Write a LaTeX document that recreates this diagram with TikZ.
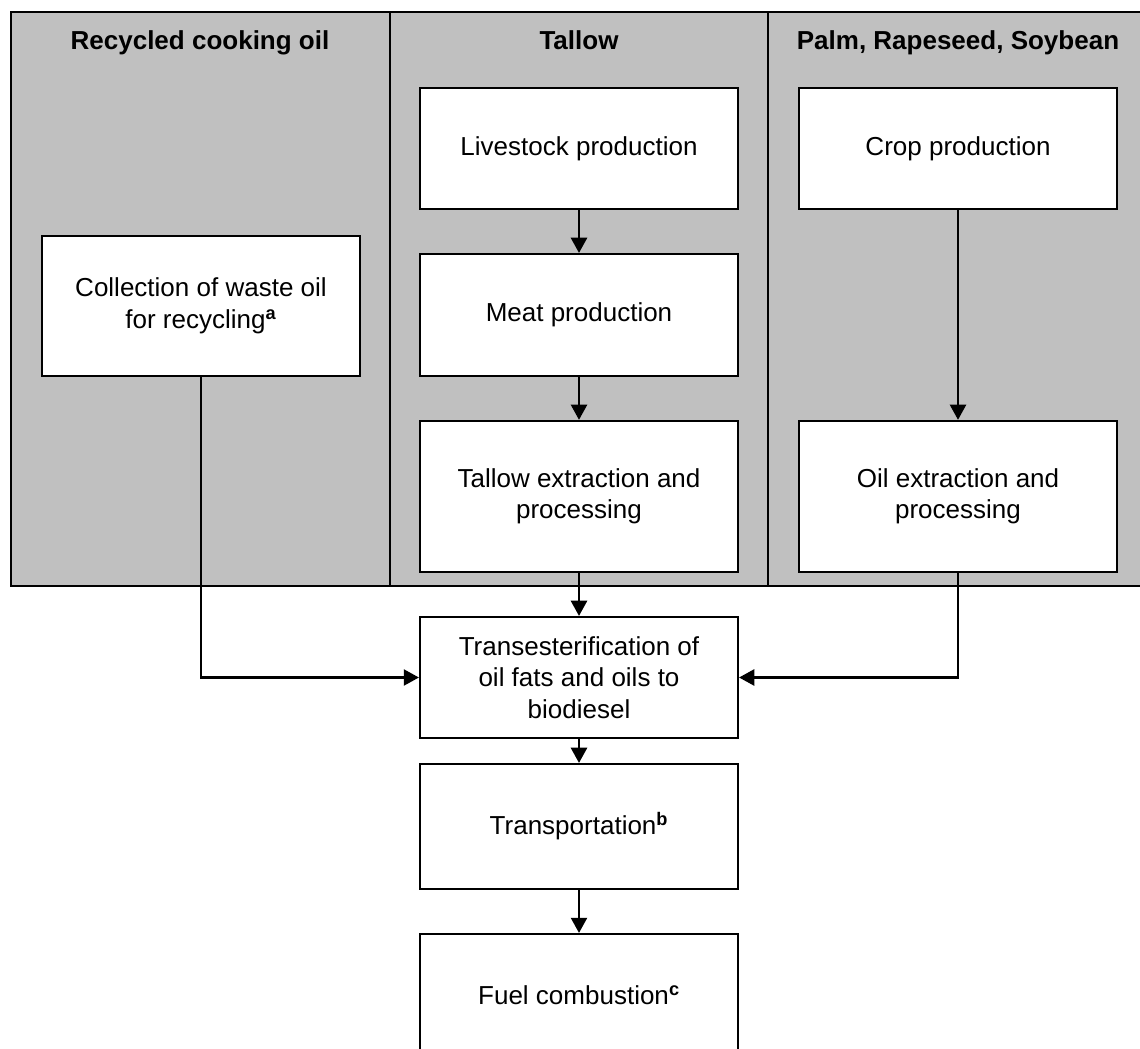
\documentclass[tikz,border=0pt]{standalone}
\usepackage{fontspec}
\setmainfont{Liberation Sans}
\usetikzlibrary{arrows.meta}
\definecolor{panelgrey}{HTML}{C0C0C0}
\newcommand{\boxwidth}{7.95cm}
\newcommand{\colsize}{\fontsize{18.5}{22.4}\selectfont}

\tikzset{
  stage/.style={draw=black, fill=white, line width=1.5pt, align=center,
    minimum width=\boxwidth, inner sep=0pt, font=\colsize},
  header/.style={font=\colsize\bfseries, anchor=base},
  flow/.style={-{Triangle[length=0.38cm,width=0.4cm]}, line width=1.8pt},
}

\begin{document}
\begin{tikzpicture}

\useasboundingbox (0,0) rectangle (28.5,26.2);

% feedstock panels
\filldraw[fill=panelgrey, draw=black, line width=1.5pt] (0.275,11.55) rectangle (28.75,25.9);
\draw[line width=1.5pt] (9.75,11.55) -- (9.75,25.9);
\draw[line width=1.5pt] (19.2,11.55) -- (19.2,25.9);

\node[header] (hRecycled) at (5.0, 24.95) {Recycled cooking oil};
\node[header] (hTallow) at (14.475, 24.95) {Tallow};
\node[header] (hCrop) at (23.95, 24.95) {Palm, Rapeseed, Soybean};

% boxes inside the panels
\node[stage, minimum height=3.5cm] (collect) at (5.025, 18.55) {Collection of waste oil\\for recycling\textsuperscript{\textbf{a}}};
\node[stage, minimum height=3.025cm] (livestock) at (14.475, 22.49) {Livestock production};
\node[stage, minimum height=3.05cm] (meat) at (14.475, 18.325) {Meat production};
\node[stage, minimum height=3.775cm] (tallowExt) at (14.475, 13.79) {Tallow extraction and\\processing};
\node[stage, minimum height=3.025cm] (cropProd) at (23.95, 22.49) {Crop production};
\node[stage, minimum height=3.775cm] (oilExt) at (23.95, 13.79) {Oil extraction and\\processing};

% common chain
\node[stage, minimum height=3.025cm] (transEst) at (14.475, 9.2625) {Transesterification of\\oil fats and oils to\\biodiesel};
\node[stage, minimum height=3.125cm] (transport) at (14.475, 5.5375) {Transportation\textsuperscript{\textbf{b}}};
\node[stage, minimum height=3.05cm] (combust) at (14.475, 1.325) {Fuel combustion\textsuperscript{\textbf{c}}};

\draw[flow] (livestock) -- (meat);
\draw[flow] (meat) -- (tallowExt);
\draw[flow] (tallowExt) -- (transEst);
\draw[flow] (cropProd) -- (oilExt);
\draw[flow] (collect.south) |- (transEst.west);
\draw[flow] (oilExt.south) |- (transEst.east);
\draw[flow] (transEst) -- (transport);
\draw[flow] (transport) -- (combust);

\end{tikzpicture}
\end{document}
